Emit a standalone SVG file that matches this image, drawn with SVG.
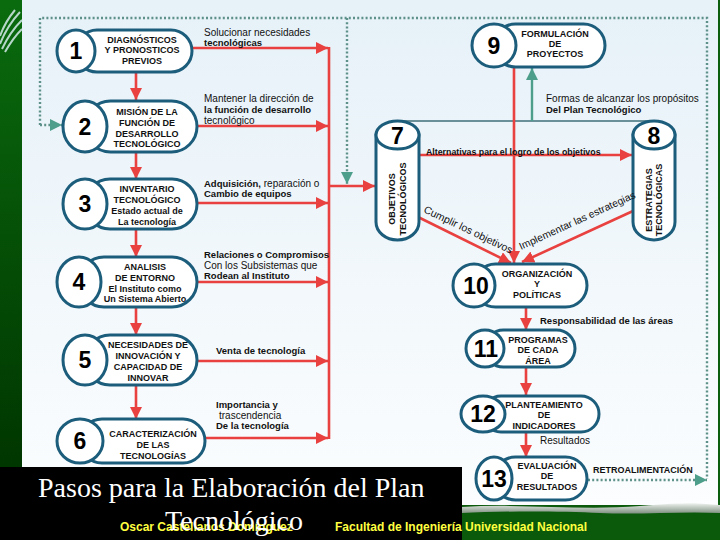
<svg xmlns="http://www.w3.org/2000/svg" width="720" height="540" viewBox="0 0 720 540">
<defs>
  <linearGradient id="panelBg" x1="0" y1="0" x2="0" y2="1">
    <stop offset="0" stop-color="#e6f1f8"/>
    <stop offset="1" stop-color="#fbfdfe"/>
  </linearGradient>
  <linearGradient id="sideGreen" x1="0" y1="0" x2="0" y2="1">
    <stop offset="0" stop-color="#0a6b0e"/>
    <stop offset="1" stop-color="#003600"/>
  </linearGradient>
  <linearGradient id="silver" x1="0" y1="0" x2="0" y2="1">
    <stop offset="0" stop-color="#eef2ee"/>
    <stop offset="1" stop-color="#7d8f80"/>
  </linearGradient>
  <marker id="ar" viewBox="0 0 10 10" refX="10" refY="5" markerWidth="12" markerHeight="12" markerUnits="userSpaceOnUse" orient="auto">
    <path d="M0,0 L10,5 L0,10 z" fill="#e8413f"/>
  </marker>
  <marker id="at" viewBox="0 0 10 10" refX="10" refY="5" markerWidth="12" markerHeight="12" markerUnits="userSpaceOnUse" orient="auto">
    <path d="M0,0 L10,5 L0,10 z" fill="#4d9e8a"/>
  </marker>
  <style>
    .pill{fill:#fff;stroke:#1c5d7c;stroke-width:3}
    .nt{font-family:"Liberation Sans",Arial,sans-serif;font-weight:bold;font-size:9px;fill:#111;text-anchor:middle}
    .num{font-family:"Liberation Sans",Arial,sans-serif;font-weight:bold;font-size:23px;fill:#000;text-anchor:middle}
    .red{stroke:#e8413f;stroke-width:2.6;fill:none}
    .dot{stroke:#5e9189;stroke-width:2.4;stroke-dasharray:2 2.2;fill:none}
    .teal{stroke:#4d9e8a;stroke-width:2.4;fill:none}
    .lb{font-family:"Liberation Sans",Arial,sans-serif;font-size:10px;fill:#111}
    .b{font-weight:bold;font-size:9.5px}
    .ttl{font-family:"Liberation Serif","Times New Roman",serif;font-size:28px;fill:#fff}
    .ft{font-family:"Liberation Sans",Arial,sans-serif;font-weight:bold;font-size:12px;fill:#ffff40}
  </style>
</defs>

<!-- background -->
<rect x="0" y="0" width="720" height="540" fill="#0a5e0e"/>
<rect x="22" y="0" width="696" height="505" fill="url(#panelBg)"/>
<rect x="0" y="0" width="22" height="467" fill="url(#sideGreen)"/>
<g stroke="#d4eaea" stroke-width="2" fill="none" opacity="0.85">
  <path d="M0,44 Q7,26 20,12"/>
  <path d="M2,49 Q10,32 22,20"/>
  <path d="M5,52 Q13,38 22,29"/>
  <path d="M0,36 Q5,22 15,10"/>
</g>
<rect x="462" y="505" width="258" height="35" fill="#0b5a0b"/>
<path d="M462,507 C520,503 580,511 640,506 S700,504 720,505 L720,513 C680,511 640,515 600,513 S500,511 462,513 Z" fill="url(#silver)"/>
<rect x="0" y="467" width="462" height="73" fill="#000"/>

<!-- connectors -->
<g id="connectors">
  <path class="dot" d="M40,125 V18 H707 V479"/>
  <path class="dot" d="M40,125 H62" marker-end="url(#at)"/>
  <path class="dot" d="M347,18 V184" marker-end="url(#at)"/>
  <path class="dot" d="M588,480 H707" marker-end="url(#at)"/>

  <path class="red" d="M136,72 V100" marker-end="url(#ar)"/>
  <path class="red" d="M136,152 V179" marker-end="url(#ar)"/>
  <path class="red" d="M136,229 V257" marker-end="url(#ar)"/>
  <path class="red" d="M136,307 V335" marker-end="url(#ar)"/>
  <path class="red" d="M136,385 V419" marker-end="url(#ar)"/>

  <path class="red" d="M192,48 H328" marker-end="url(#ar)"/>
  <path class="red" d="M197,126 H328" marker-end="url(#ar)"/>
  <path class="red" d="M197,203 H328" marker-end="url(#ar)"/>
  <path class="red" d="M197,282 H328" marker-end="url(#ar)"/>
  <path class="red" d="M197,361 H328" marker-end="url(#ar)"/>
  <path class="red" d="M205,438 H328" marker-end="url(#ar)"/>
  <path class="red" d="M329,47 V439"/>
  <path class="red" d="M329,186 H375" marker-end="url(#ar)"/>

  <path d="M397,121 H654" stroke="#3f6f78" stroke-width="1.5" fill="none"/>
  <path class="teal" d="M532,121 V68" marker-end="url(#at)"/>

  <path class="red" d="M514,67 V263" marker-end="url(#ar)"/>
  <path class="red" d="M419,155 H632" marker-end="url(#ar)"/>
  <path class="red" d="M418,217 L511,263" marker-end="url(#ar)"/>
  <path class="red" d="M633,211 L522,262" marker-end="url(#ar)"/>

  <path class="red" d="M526,307 V330" marker-end="url(#ar)"/>
  <path class="red" d="M526,367 V395" marker-end="url(#ar)"/>
  <path class="red" d="M526,432 V457" marker-end="url(#ar)"/>
</g>

<!-- nodes -->
<g id="node-1">
  <rect class="pill" x="76" y="30" width="116" height="42" rx="21"/>
  <ellipse class="pill" cx="76" cy="51" rx="19" ry="21"/>
  <text class="num" x="76" y="59">1</text>
  <text class="nt" x="142" y="43">DIAGNÓSTICOS</text>
  <text class="nt" x="142" y="53">Y PRONOSTICOS</text>
  <text class="nt" x="142" y="64">PREVIOS</text>
</g>
<g id="node-2">
  <rect class="pill" x="85" y="101" width="112" height="51" rx="25.5"/>
  <ellipse class="pill" cx="85" cy="126.5" rx="22" ry="25.5"/>
  <text class="num" x="85" y="135">2</text>
  <text class="nt" x="147" y="115">MISIÓN DE LA</text>
  <text class="nt" x="147" y="126">FUNCIÓN DE</text>
  <text class="nt" x="147" y="137">DESARROLLO</text>
  <text class="nt" x="147" y="147">TECNOLÓGICO</text>
</g>
<g id="node-3">
  <rect class="pill" x="85" y="179" width="112" height="50" rx="25"/>
  <ellipse class="pill" cx="85" cy="204" rx="22" ry="25"/>
  <text class="num" x="85" y="212">3</text>
  <text class="nt" x="147" y="192">INVENTARIO</text>
  <text class="nt" x="147" y="203">TECNOLÓGICO</text>
  <text class="nt" x="147" y="214">Estado actual de</text>
  <text class="nt" x="147" y="225">La tecnología</text>
</g>
<g id="node-4">
  <rect class="pill" x="79" y="257" width="118" height="50" rx="25"/>
  <ellipse class="pill" cx="79" cy="282" rx="22" ry="25"/>
  <text class="num" x="79" y="290">4</text>
  <text class="nt" x="145" y="270">ANALISIS</text>
  <text class="nt" x="145" y="281">DE ENTORNO</text>
  <text class="nt" x="145" y="292">El Instituto como</text>
  <text class="nt" x="145" y="302">Un Sistema Abierto</text>
</g>
<g id="node-5">
  <rect class="pill" x="85" y="335" width="112" height="50" rx="25"/>
  <ellipse class="pill" cx="85" cy="360" rx="22" ry="25"/>
  <text class="num" x="85" y="368">5</text>
  <text class="nt" x="148" y="348">NECESIDADES DE</text>
  <text class="nt" x="148" y="359">INNOVACIÓN Y</text>
  <text class="nt" x="148" y="370">CAPACIDAD DE</text>
  <text class="nt" x="148" y="381">INNOVAR</text>
</g>
<g id="node-6">
  <rect class="pill" x="80" y="419" width="125" height="44" rx="22"/>
  <ellipse class="pill" cx="80" cy="441" rx="23" ry="22"/>
  <text class="num" x="80" y="449">6</text>
  <text class="nt" x="153" y="437">CARACTERIZACIÓN</text>
  <text class="nt" x="153" y="448">DE LAS</text>
  <text class="nt" x="153" y="459" font-size="8.5">TECNOLOGÍAS</text>
</g>
<g id="node-7">
  <path class="pill" d="M376,135 V222 A21.5,18 0 0 0 419,222 V135 Z"/>
  <ellipse class="pill" cx="397.5" cy="135" rx="21.5" ry="14"/>
  <text class="num" x="397.5" y="144">7</text>
  <text class="nt" font-size="8.5" transform="translate(395 199) rotate(-90)">OBJETIVOS</text>
  <text class="nt" font-size="8.5" transform="translate(406 199) rotate(-90)">TECNOLÓGICOS</text>
</g>
<g id="node-8">
  <path class="pill" d="M633,135 V222 A21,18 0 0 0 675,222 V135 Z"/>
  <ellipse class="pill" cx="654" cy="135" rx="21" ry="14"/>
  <text class="num" x="654" y="144">8</text>
  <text class="nt" font-size="8.5" transform="translate(652 200) rotate(-90)">ESTRATEGIAS</text>
  <text class="nt" font-size="8.5" transform="translate(662 200) rotate(-90)">TECNOLÓGICAS</text>
</g>
<g id="node-9">
  <rect class="pill" x="494" y="24" width="111" height="43" rx="21.5"/>
  <ellipse class="pill" cx="494" cy="45.5" rx="22" ry="21.5"/>
  <text class="num" x="494" y="54">9</text>
  <text class="nt" x="555" y="37">FORMULACIÓN</text>
  <text class="nt" x="555" y="47">DE</text>
  <text class="nt" x="555" y="57">PROYECTOS</text>
</g>
<g id="node-10">
  <rect class="pill" x="474" y="264" width="113" height="43" rx="21.5"/>
  <ellipse class="pill" cx="474" cy="285.5" rx="21" ry="21.5"/>
  <text class="num" x="476" y="294">10</text>
  <text class="nt" x="537" y="277">ORGANIZACIÓN</text>
  <text class="nt" x="537" y="287">Y</text>
  <text class="nt" x="537" y="298">POLÍTICAS</text>
</g>
<g id="node-11">
  <rect class="pill" x="485" y="330" width="90" height="37" rx="18.5"/>
  <ellipse class="pill" cx="485" cy="348.5" rx="19" ry="18.5"/>
  <text class="num" x="486" y="357">11</text>
  <text class="nt" x="538" y="343" font-size="8.5">PROGRAMAS</text>
  <text class="nt" x="538" y="353">DE CADA</text>
  <text class="nt" x="538" y="364">ÁREA</text>
</g>
<g id="node-12">
  <rect class="pill" x="483" y="396" width="116" height="36" rx="18"/>
  <ellipse class="pill" cx="483" cy="414" rx="22" ry="18"/>
  <text class="num" x="483" y="422">12</text>
  <text class="nt" x="544" y="408">PLANTEAMIENTO</text>
  <text class="nt" x="544" y="418">DE</text>
  <text class="nt" x="544" y="429">INDICADORES</text>
</g>
<g id="node-13">
  <rect class="pill" x="494" y="457" width="93" height="43" rx="21.5"/>
  <ellipse class="pill" cx="494" cy="478.5" rx="18" ry="21.5"/>
  <text class="num" x="494" y="487">13</text>
  <text class="nt" x="547" y="469">EVALUACIÓN</text>
  <text class="nt" x="547" y="479">DE</text>
  <text class="nt" x="547" y="490">RESULTADOS</text>
</g>

<!-- connector labels -->
<g id="edge-labels" class="lb">
  <text x="204" y="36">Solucionar necesidades</text>
  <text x="204" y="46" class="b">tecnológicas</text>
  <text x="204" y="102">Mantener la dirección de</text>
  <text x="204" y="113" class="b">la función de desarrollo</text>
  <text x="204" y="124">tecnológico</text>
  <text x="204" y="187"><tspan class="b">Adquisición,</tspan> reparación o</text>
  <text x="204" y="197" class="b">Cambio de equipos</text>
  <text x="204" y="258" class="b">Relaciones o Compromisos</text>
  <text x="204" y="269">Con los Subsistemas que</text>
  <text x="204" y="279" class="b">Rodean  al Instituto</text>
  <text x="216" y="354" class="b">Venta de tecnología</text>
  <text x="216" y="408" class="b">Importancia y</text>
  <text x="219" y="419">trascendencia</text>
  <text x="216" y="429" class="b">De la tecnología</text>
  <text x="546" y="102">Formas de alcanzar los propósitos</text>
  <text x="546" y="113" class="b">Del Plan Tecnológico</text>
  <text x="426" y="155" font-weight="bold" font-size="8.8">Alternativas para el logro de los objetivos</text>
  <text x="423" y="212" font-size="10.5" transform="rotate(25.5 423 212)">Cumplir los objetivos</text>
  <text x="521" y="250" font-size="10.3" transform="rotate(-24.5 521 250)">Implementar las estrategias</text>
  <text x="540" y="324" class="b" font-size="9.2">Responsabilidad de las áreas</text>
  <text x="540" y="444">Resultados</text>
  <text x="593" y="473" font-weight="bold" font-size="9">RETROALIMENTACIÓN</text>
</g>

<!-- footer -->
<text class="ft" x="120" y="531">Oscar Castellanos Domínguez</text>
<text class="ft" x="335" y="531">Facultad de Ingeniería Universidad Nacional</text>
<text class="ttl" x="38" y="497">Pasos para la Elaboración del Plan</text>
<text class="ttl" x="165" y="530">Tecnológico</text>
</svg>
